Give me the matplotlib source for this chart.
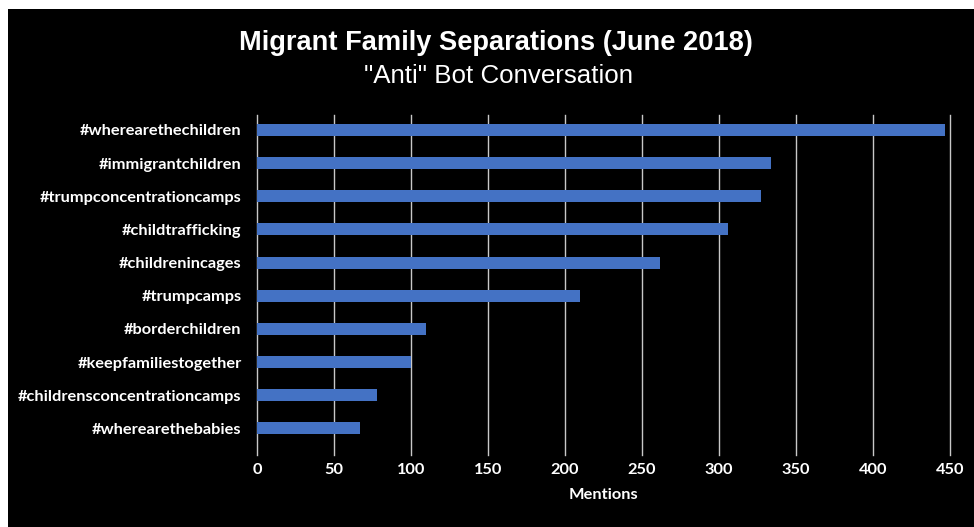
import matplotlib
matplotlib.use("Agg")
import matplotlib.pyplot as plt
from matplotlib.patches import Rectangle

categories = ["#wherearethechildren", "#immigrantchildren", "#trumpconcentrationcamps",
              "#childtrafficking", "#childrenincages", "#trumpcamps", "#borderchildren",
              "#keepfamiliestogether", "#childrensconcentrationcamps", "#wherearethebabies"]
mentions = [447, 334, 327, 306, 262, 210, 110, 100, 78, 67]
xticks = [0, 50, 100, 150, 200, 250, 300, 350, 400, 450]

W, H = 974, 527
fig = plt.figure(figsize=(W / 100, H / 100), dpi=100)
fig.patch.set_facecolor("white")
fig.patches.append(Rectangle((8 / W, 0), 1, 1 - 9 / H, transform=fig.transFigure,
                             facecolor="black", edgecolor="none", zorder=-5))

ax = fig.add_axes([257 / W, 1 - 455 / H, (950 - 257) / W, (455 - 115) / H])
ax.set_zorder(5)
ax.set_facecolor("black")
ypos = list(range(len(categories)))
ax.barh(ypos, mentions, height=0.36, color="#4472C4", zorder=3)
ax.set_xlim(0, 450)
ax.set_ylim(9.8, -0.45)
ax.set_xticks(xticks)
ax.set_yticks(ypos)
ax.set_yticklabels(categories)
ax.grid(axis="x", color="#c8c8c8", linewidth=1.0, zorder=1)
ax.grid(axis="y", visible=False)
for gl in ax.xaxis.get_gridlines():
    gl.set_clip_on(False)
for s in ax.spines.values():
    s.set_visible(False)
ax.tick_params(length=0, colors="white")
ax.tick_params(axis="y", pad=11)
ax.tick_params(axis="x", pad=6)
for lab in ax.get_yticklabels() + ax.get_xticklabels():
    lab.set_fontfamily("Lato")
    lab.set_fontweight("bold")
    lab.set_fontsize(11.8)
    lab.set_color("white")
ax.set_xlabel("Mentions", family="Lato", fontweight="bold", fontsize=11.8, color="white", labelpad=8)

fig.text(496 / W, 1 - 43 / H, "Migrant Family Separations (June 2018)", ha="center", va="center",
         family="Liberation Sans", fontweight="bold", fontsize=19.6, color="white", zorder=10)
fig.text(499 / W, 1 - 76 / H, "\"Anti\" Bot Conversation", ha="center", va="center",
         family="Liberation Sans", fontsize=18.6, color="white", zorder=10)

fig.savefig("out.png", dpi=100, facecolor=fig.get_facecolor())
